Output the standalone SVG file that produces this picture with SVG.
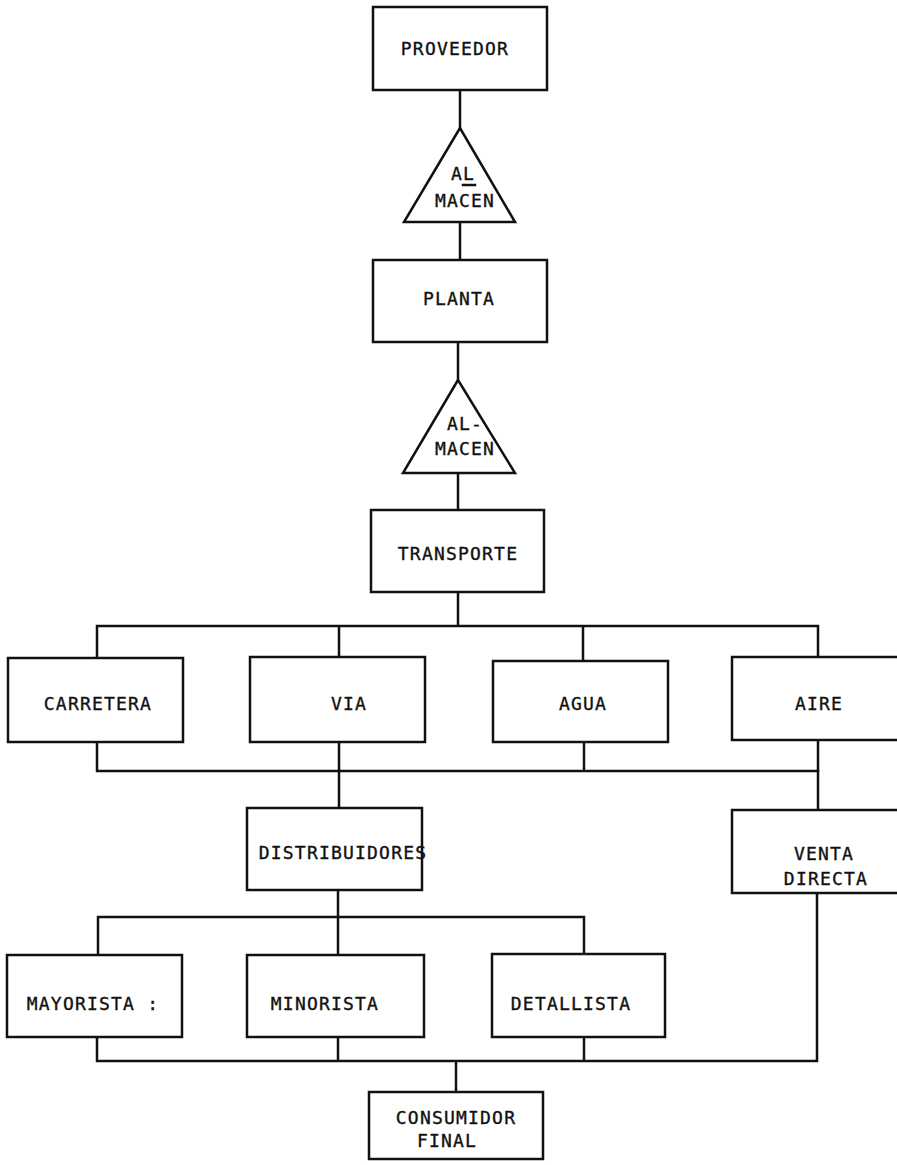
<svg xmlns="http://www.w3.org/2000/svg" width="897" height="1165" viewBox="0 0 897 1165">
<style>
.box{fill:#fff;stroke:#111;stroke-width:2.5}
.ln{fill:none;stroke:#111;stroke-width:2.5;stroke-linecap:square}
text{font-family:"DejaVu Sans Mono","Liberation Mono",monospace;font-size:18px;letter-spacing:1.2px;fill:#111;stroke:#111;stroke-width:0.35;text-anchor:middle}
</style>
<rect width="897" height="1165" fill="#fff"/>
<g id="connectors">
<path class="ln" d="M460 90V128M460 222V260M458 342V380M458 473V510"/>
<path class="ln" d="M458 592V626M97 626H818M97 626V658M339 626V657M583 626V661M818 626V657"/>
<path class="ln" d="M97 742V771H818M339 742V771M584 742V771M818 740V771"/>
<path class="ln" d="M339 771V808M818 771V810"/>
<path class="ln" d="M338 890V917M98 917H584M98 917V955M338 917V955M584 917V954"/>
<path class="ln" d="M97 1037V1061H817M338 1037V1061M584 1037V1061M817 893V1061M456 1061V1092"/>
</g>
<g id="proveedor"><rect class="box" x="373" y="7" width="174" height="83"/><text x="455" y="55">PROVEEDOR</text></g>
<g id="almacen1"><polygon class="box" points="460,128 404,222 515,222"/><text x="463" y="180">AL</text><line class="ln" x1="463" y1="185" x2="475" y2="185" stroke-width="2"/><text x="465" y="207">MACEN</text></g>
<g id="planta"><rect class="box" x="373" y="260" width="174" height="82"/><text x="459" y="305">PLANTA</text></g>
<g id="almacen2"><polygon class="box" points="458,380 403,473 515,473"/><text x="465" y="430">AL-</text><text x="465" y="455">MACEN</text></g>
<g id="transporte"><rect class="box" x="371" y="510" width="173" height="82"/><text x="458" y="560">TRANSPORTE</text></g>
<g id="carretera"><rect class="box" x="8" y="658" width="175" height="84"/><text x="98" y="710">CARRETERA</text></g>
<g id="via"><rect class="box" x="250" y="657" width="175" height="85"/><text x="349" y="710">VIA</text></g>
<g id="agua"><rect class="box" x="493" y="661" width="175" height="81"/><text x="583" y="710">AGUA</text></g>
<g id="aire"><rect class="box" x="732" y="657" width="170" height="83"/><text x="819" y="710">AIRE</text></g>
<g id="distribuidores"><rect class="box" x="247" y="808" width="175" height="82"/><text x="343" y="859">DISTRIBUIDORES</text></g>
<g id="venta-directa"><rect class="box" x="732" y="810" width="170" height="83"/><text x="824" y="860">VENTA</text><text x="826" y="885">DIRECTA</text></g>
<g id="mayorista"><rect class="box" x="7" y="955" width="175" height="82"/><text x="93" y="1010">MAYORISTA :</text></g>
<g id="minorista"><rect class="box" x="247" y="955" width="177" height="82"/><text x="325" y="1010">MINORISTA</text></g>
<g id="detallista"><rect class="box" x="492" y="954" width="173" height="83"/><text x="571" y="1010">DETALLISTA</text></g>
<g id="consumidor-final"><rect class="box" x="369" y="1092" width="174" height="67"/><text x="456" y="1124">CONSUMIDOR</text><text x="447" y="1147">FINAL</text></g>
</svg>
